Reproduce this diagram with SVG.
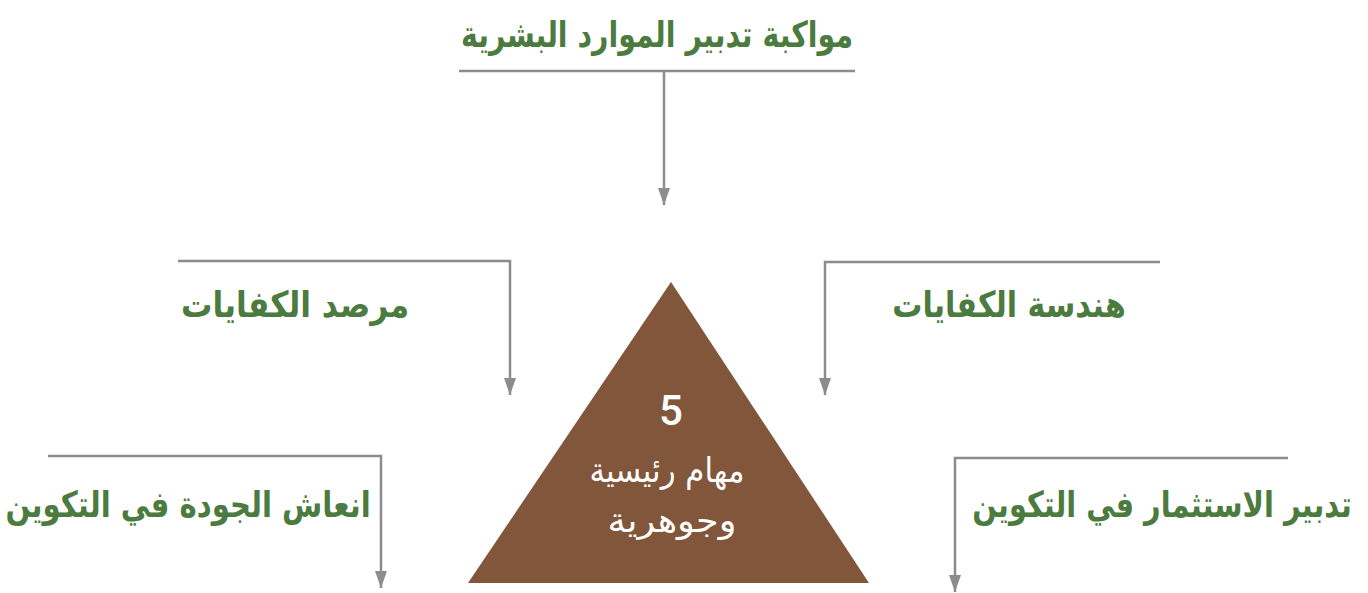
<svg xmlns="http://www.w3.org/2000/svg" width="1368" height="593" viewBox="0 0 1368 593">
<style>
.lbl{font-family:"DejaVu Sans","Noto Sans",sans-serif;font-weight:bold;font-size:36px;fill:#4B7B3E;text-anchor:middle}
.tri{font-family:"DejaVu Sans","Noto Sans",sans-serif;font-size:34px;fill:#ffffff;text-anchor:middle}
.num{font-family:Roboto,"Liberation Sans",sans-serif;font-weight:500;font-size:42px;fill:#ffffff;text-anchor:middle}
.ln{fill:none;stroke:#8C8C8C;stroke-width:2.5}
</style>
<defs>
<marker id="ah" viewBox="0 0 17 12" refX="17" refY="6" markerWidth="17" markerHeight="12" markerUnits="userSpaceOnUse" orient="auto">
<path d="M0,0 L17,6 L0,12 Z" fill="#8C8C8C"/>
</marker>
</defs>
<rect width="1368" height="593" fill="#ffffff"/>
<g id="connectors">
<path class="ln" d="M459,71 H855"/>
<path class="ln" d="M664,71 V205" marker-end="url(#ah)"/>
<path class="ln" d="M178,261 H510 V395" marker-end="url(#ah)"/>
<path class="ln" d="M1160,262 H825 V395" marker-end="url(#ah)"/>
<path class="ln" d="M48,456 H381 V588" marker-end="url(#ah)"/>
<path class="ln" d="M1288,458 H955 V592" marker-end="url(#ah)"/>
</g>
<g id="node-top"><text class="lbl" transform="translate(657,47) scale(0.79,1)">مواكبة تدبير الموارد البشرية</text></g>
<g id="node-marsad"><text class="lbl" transform="translate(295,317) scale(0.87,1)">مرصد الكفايات</text></g>
<g id="node-handasa"><text class="lbl" transform="translate(1009,317) scale(0.835,1)">هندسة الكفايات</text></g>
<g id="node-inash"><text class="lbl" transform="translate(188,517) scale(0.81,1)">انعاش الجودة في التكوين</text></g>
<g id="node-tadbir"><text class="lbl" transform="translate(1162,517) scale(0.80,1)">تدبير الاستثمار في التكوين</text></g>
<g id="node-center">
<path d="M671,282 L869,583 L468,583 Z" fill="#82563A"/>
<text class="num" x="671" y="425">5</text>
<text class="tri" x="667" y="482" textLength="155" lengthAdjust="spacingAndGlyphs">مهام رئيسية</text>
<text class="tri" x="672" y="532" textLength="129" lengthAdjust="spacingAndGlyphs">وجوهرية</text>
</g>
</svg>
